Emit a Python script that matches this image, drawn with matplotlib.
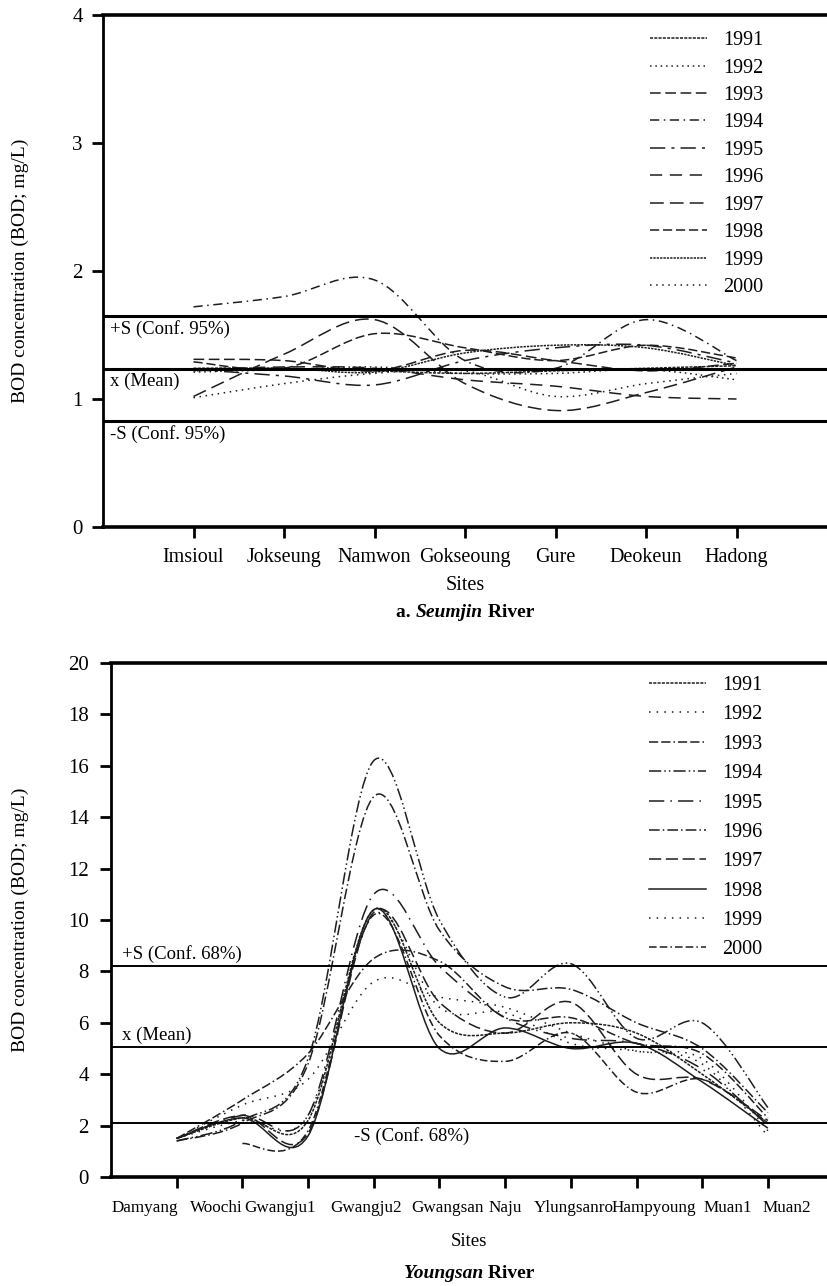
import numpy as np
import matplotlib
matplotlib.use('Agg')
import matplotlib.pyplot as plt
from matplotlib.path import Path
from matplotlib.patches import PathPatch
from matplotlib.lines import Line2D

plt.rcParams['font.family'] = ['Liberation Serif', 'DejaVu Serif']

W, H = 827, 1286
years = ['1991', '1992', '1993', '1994', '1995', '1996', '1997', '1998', '1999', '2000']

# --- a. Seumjin River ---
seumjin_sites = ['Imsioul', 'Jokseung', 'Namwon', 'Gokseoung', 'Gure', 'Deokeun', 'Hadong']
seumjin_bod = [
    [1.24, 1.24, 1.22, 1.20, 1.22, 1.24, 1.26],   # 1991
    [1.21, 1.23, 1.25, 1.20, 1.20, 1.23, 1.15],   # 1992
    [1.31, 1.30, 1.22, 1.38, 1.30, 1.22, 1.28],   # 1993
    [1.72, 1.80, 1.93, 1.30, 1.24, 1.62, 1.30],   # 1994
    [1.23, 1.18, 1.11, 1.30, 1.40, 1.42, 1.28],   # 1995
    [1.23, 1.25, 1.24, 1.15, 1.10, 1.02, 1.00],   # 1996
    [1.02, 1.35, 1.62, 1.12, 0.91, 1.05, 1.25],   # 1997
    [1.29, 1.24, 1.51, 1.40, 1.30, 1.42, 1.32],   # 1998
    [1.22, 1.24, 1.21, 1.36, 1.42, 1.40, 1.26],   # 1999
    [1.01, 1.12, 1.20, 1.22, 1.02, 1.12, 1.20],   # 2000
]
seumjin_ref = [1.65, 1.235, 0.83]
seumjin_ref_labels = ['+S (Conf. 95%)', 'x (Mean)', '-S (Conf. 95%)']

# --- Youngsan River ---
youngsan_sites = ['Damyang', 'Woochi', 'Gwangju1', 'Gwangju2', 'Gwangsan', 'Naju',
                  'Ylungsanro', 'Hampyoung', 'Muan1', 'Muan2']
youngsan_bod = [
    [1.5, 2.3, 2.2, 10.4, 6.0, 5.6, 6.0, 5.6, 4.0, 2.1],    # 1991
    [1.5, 2.8, 3.8, 7.6, 7.0, 6.6, 5.6, 4.9, 4.6, 1.8],     # 1992
    [1.5, 3.0, 4.8, 8.5, 8.4, 6.2, 6.2, 5.2, 4.8, 2.3],     # 1993
    [1.4, 2.2, 4.6, 16.2, 10.0, 7.0, 8.3, 5.4, 6.0, 2.7],   # 1994
    [1.5, 2.4, 2.4, 11.0, 8.2, 6.2, 5.4, 5.2, 4.2, 2.0],    # 1995
    [1.4, 2.1, 4.4, 14.8, 9.6, 7.4, 7.3, 6.0, 5.0, 2.5],    # 1996
    [1.5, 2.4, 1.7, 10.3, 6.8, 5.6, 6.8, 4.0, 3.8, 2.2],    # 1997
    [1.5, 2.3, 1.6, 10.4, 5.0, 5.8, 5.0, 5.2, 3.7, 1.9],    # 1998
    [1.5, 2.2, 2.4, 10.2, 6.6, 6.4, 5.2, 4.9, 4.4, 1.6],    # 1999
    [np.nan, 1.3, 1.8, 10.2, 5.5, 4.5, 5.6, 3.3, 3.8, 2.1], # 2000
]
youngsan_ref = [8.2, 5.05, 2.1]
youngsan_ref_labels = ['+S (Conf. 68%)', 'x (Mean)', '-S (Conf. 68%)']
# site names in the lower chart are spread a little wider than the data points
youngsan_label_pos = [0.52, 1.60, 2.57, 3.88, 5.13, 6.0, 7.05, 8.26, 9.39, 10.29]

styles_top = [(0, (2, 0.8)), (0, (1, 2.5)), (0, (7, 3)), (0, (6, 3, 1, 3)),
              (0, (10, 4, 2, 4)), (0, (8, 5)), (0, (9, 4)), (0, (6, 2.5)),
              (0, (1.5, 0.7)), (0, (1, 3))]
styles_bot = [(0, (2, 0.8)), (0, (1, 4)), (0, (6, 2, 6, 2, 1, 2)), (0, (8, 2, 1, 2, 1, 2)),
              (0, (10, 4, 1, 4)), (0, (7, 2, 1, 2)), (0, (8, 3)), '-',
              (0, (1, 4)), (0, (5, 2, 5, 2, 1, 2))]
INK = '#1e1e1e'


def smooth_path(xs, ys):
    # smooth line through the points (Catmull-Rom as cubic Bezier)
    x = np.asarray(xs, float)
    y = np.asarray(ys, float)
    ok = ~np.isnan(y)
    p = np.column_stack([x[ok], y[ok]])
    pe = np.vstack([p[0], p, p[-1]])
    verts, codes = [p[0]], [Path.MOVETO]
    for i in range(len(p) - 1):
        p0, p1, p2, p3 = pe[i], pe[i + 1], pe[i + 2], pe[i + 3]
        verts += [p1 + (p2 - p0) / 6, p2 - (p3 - p1) / 6, p2]
        codes += [Path.CURVE4] * 3
    return Path(verts, codes)


def draw_panel(ax, sites, data, styles, ylim, yticks, xmax, ref, ref_labels,
               ref_lw, ref_text, tick_fs, pad_x, pad_y, leg_anchor, leg_spacing,
               label_pos=None):
    xpos = np.arange(1, len(sites) + 1)
    for vals, ls in zip(data, styles):
        ax.add_patch(PathPatch(smooth_path(xpos, vals), facecolor='none',
                               edgecolor=INK, lw=1.1, ls=ls))
    for v in ref:
        ax.axhline(v, color='black', lw=ref_lw)
    for (v, lab, (xf, dy, va)) in zip(ref, ref_labels, ref_text):
        ax.annotate(lab, xy=(xf, v), xycoords=('axes fraction', 'data'),
                    xytext=(5, dy), textcoords='offset points', va=va, ha='left',
                    fontsize=13.5)
    ax.set_xlim(0, xmax)
    ax.set_ylim(*ylim)
    ax.set_yticks(yticks)
    ax.tick_params(axis='y', direction='out', length=8, width=2, labelsize=15, pad=pad_y)
    ax.set_xticks(xpos)
    if label_pos is None:
        ax.set_xticklabels(sites, fontsize=tick_fs)
        ax.tick_params(axis='x', direction='out', length=8, width=2, pad=pad_x)
    else:
        ax.xaxis.remove_overlapping_locs = False
        ax.set_xticklabels([])
        ax.set_xticks(label_pos, minor=True)
        ax.set_xticklabels(sites, minor=True, fontsize=tick_fs)
        ax.tick_params(axis='x', which='major', direction='out', length=8, width=2)
        ax.tick_params(axis='x', which='minor', length=0, pad=pad_x + 5.8)
    ax.spines['right'].set_visible(False)
    ax.spines['left'].set_linewidth(2)
    ax.spines['top'].set_linewidth(2.6)
    ax.spines['bottom'].set_linewidth(2.6)
    handles = [Line2D([], [], color=INK, lw=1.1, ls=ls) for ls in styles]
    ax.legend(handles, years, loc='upper left', bbox_to_anchor=leg_anchor,
              bbox_transform=ax.figure.transFigure, frameon=False, fontsize=14.5,
              handlelength=2.85, handletextpad=0.8, labelspacing=leg_spacing,
              borderpad=0, borderaxespad=0)


def add_caption(fig, parts, xc, yc, fs=14):
    renderer = fig.canvas.get_renderer()
    texts = [fig.text(0, yc, s, fontsize=fs, fontweight='bold', fontstyle=st,
                      va='center', ha='left') for s, st in parts]
    widths = [t.get_window_extent(renderer).width for t in texts]
    x = xc - sum(widths) / 2
    for t, w in zip(texts, widths):
        t.set_x(x / W)
        x += w


fig = plt.figure(figsize=(W / 100, H / 100), dpi=100)

ax1 = fig.add_axes([103 / W, 1 - 527 / H, 724 / W, 512 / H])
draw_panel(ax1, seumjin_sites, seumjin_bod, styles_top, (0, 4), range(0, 5), 8.0,
           seumjin_ref, seumjin_ref_labels, 2.2,
           [(0, -3, 'top'), (0, -3, 'top'), (0, -3, 'top')],
           14.5, 7, 6.5, (650 / W, 1 - 31 / H), 0.415)

ax2 = fig.add_axes([111 / W, 1 - 1177 / H, 716 / W, 514 / H])
draw_panel(ax2, youngsan_sites, youngsan_bod, styles_bot, (0, 20), range(0, 21, 2), 10.9,
           youngsan_ref, youngsan_ref_labels, 1.4,
           [(0.005, 2, 'bottom'), (0.005, 2, 'bottom'), (0.33, -3, 'top')],
           12.3, 11, 8, (649 / W, 1 - 676 / H), 0.51, label_pos=youngsan_label_pos)

for yc in (271, 920):
    fig.text(20 / W, 1 - yc / H, 'BOD concentration (BOD; mg/L)', rotation=90,
             fontsize=14, ha='center', va='center')

fig.text(465 / W, 1 - 586 / H, 'Sites', fontsize=14.5, ha='center', va='center')
fig.text(469 / W, 1 - 1242 / H, 'Sites', fontsize=13.5, ha='center', va='center')

fig.canvas.draw()
add_caption(fig, [('a. ', 'normal'), ('Seumjin', 'italic'), (' River', 'normal')],
            465, 1 - 613 / H)
add_caption(fig, [('Youngsan', 'italic'), (' River', 'normal')], 469, 1 - 1273 / H)

fig.savefig('out.png', dpi=100)
